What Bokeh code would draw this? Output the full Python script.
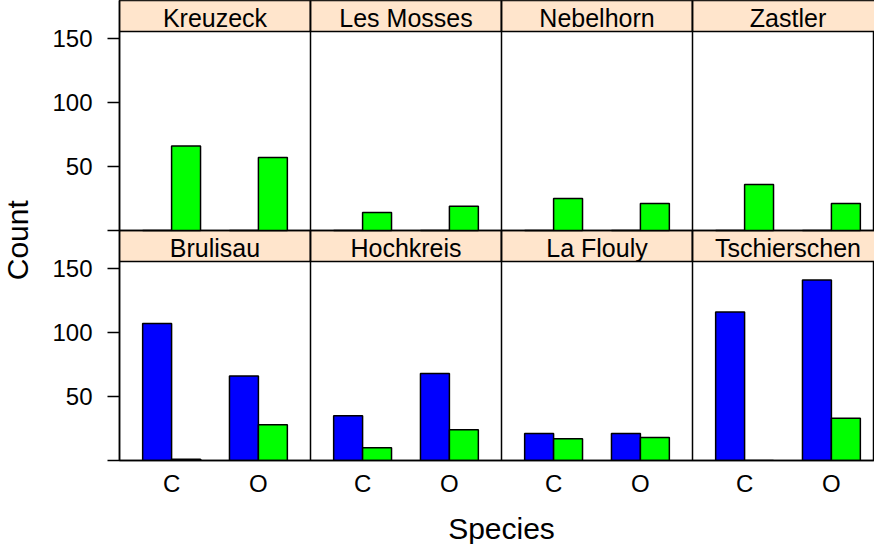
import math
from bokeh.plotting import figure
from bokeh.layouts import row, column
from bokeh.models import Range1d, FixedTicker
from bokeh.core.properties import value
from bokeh.embed import file_html
from bokeh.resources import INLINE

# ---------------- data ----------------
sites_top = ["Kreuzeck", "Les Mosses", "Nebelhorn", "Zastler"]
sites_bottom = ["Brulisau", "Hochkreis", "La Flouly", "Tschierschen"]
species = ["C", "O"]

blue_top = [[0, 0], [0, 0], [0, 0], [0, 0]]
green_top = [[66, 57], [14, 19], [25, 21], [36, 21]]
blue_bottom = [[107, 66], [35, 68], [21, 21], [116, 141]]
green_bottom = [[1, 28], [10, 24], [17, 18], [0, 33]]

y_ticks = [0, 50, 100, 150]
y_tick_labels = ["", "50", "100", "150"]
x_title = "Species"
y_title = "Count"

# ---------------- layout ----------------
FONT = "Liberation Sans"
BLUE = "#0000FF"
GREEN = "#00FF00"
STRIP_BG = "#FFE5CC"

W, H = 874, 544
LABEL_W = 40          # strip of canvas holding the y title
FRAME_LEFT = 119      # frame left edge within the page content
FRAME_H = 460
MAIN_BOTTOM = 40      # room for the C / O tick labels
TITLE_H = H - FRAME_H - MAIN_BOTTOM
frame_w = W - FRAME_LEFT

PANEL_W = 2.2        # each panel spans 0.4 .. 2.6 in category units
PANEL_PX = 191       # pixel width of one panel
PANEL_TOP = 155.4    # value at top of a panel
STRIP = 24.2         # strip height in value units
ROW = PANEL_TOP + STRIP
BAR_W = 1.0 / 3.0

x_range = Range1d(0, frame_w / PANEL_PX * PANEL_W)
y_range = Range1d(0, 2 * ROW)


def blank(fig):
    fig.background_fill_color = "white"
    fig.border_fill_color = "white"
    fig.outline_line_color = None
    fig.xgrid.visible = False
    fig.ygrid.visible = False
    return fig


p = figure(width=W - LABEL_W, height=FRAME_H + MAIN_BOTTOM,
           x_range=x_range, y_range=y_range,
           output_backend="svg", toolbar_location=None,
           min_border_left=FRAME_LEFT - LABEL_W, min_border_right=0,
           min_border_top=0, min_border_bottom=MAIN_BOTTOM)
blank(p)
p.outline_line_color = "black"
p.outline_line_width = 1.5

rows = [(sites_top, blue_top, green_top, ROW),
        (sites_bottom, blue_bottom, green_bottom, 0.0)]

bx, btop, bbase, gx, gtop, gbase = [], [], [], [], [], []
sl, sr, sb, st, tx, ty, tt = [], [], [], [], [], [], []
for sites, blues, greens, base in rows:
    for i, site in enumerate(sites):
        off = i * PANEL_W
        for j, sp in enumerate(species):
            xc = off + (j + 1) - 0.4
            bx.append(xc - BAR_W / 2); btop.append(base + blues[i][j]); bbase.append(base)
            gx.append(xc + BAR_W / 2); gtop.append(base + greens[i][j]); gbase.append(base)
        sl.append(off); sr.append(off + PANEL_W)
        sb.append(base + PANEL_TOP); st.append(base + ROW)
        tx.append(off + PANEL_W / 2); ty.append(base + PANEL_TOP + STRIP / 2); tt.append(site)

# strips
p.quad(left=sl, right=sr, bottom=sb, top=st, fill_color=STRIP_BG,
       line_color="black", line_width=1.5)
p.text(x=tx, y=ty, text=tt, text_align="center", text_baseline="middle",
       y_offset=2, text_font=value(FONT), text_font_size="25px", text_color="black")

# panel separators
seps = [i * PANEL_W for i in range(1, len(sites_bottom))]
p.segment(x0=seps, y0=[0] * len(seps), x1=seps, y1=[2 * ROW] * len(seps),
          line_color="black", line_width=1.5)
p.segment(x0=[0], y0=[ROW], x1=[x_range.end], y1=[ROW], line_color="black", line_width=1.5)

# bars
p.vbar(x=bx, width=BAR_W, bottom=bbase, top=btop, fill_color=BLUE,
       line_color="black", line_width=1.5)
p.vbar(x=gx, width=BAR_W, bottom=gbase, top=gtop, fill_color=GREEN,
       line_color="black", line_width=1.5)

# x axis
xt, xo = [], {}
for i in range(len(sites_bottom)):
    for j, sp in enumerate(species):
        v = i * PANEL_W + (j + 1) - 0.4
        xt.append(v); xo[v] = sp
p.xaxis.ticker = FixedTicker(ticks=xt)
p.xaxis.major_label_overrides = xo
p.xaxis.major_tick_out = 0
p.xaxis.major_tick_in = 0
p.xaxis.minor_tick_line_color = None
p.xaxis.major_tick_line_color = None
p.xaxis.major_label_standoff = 9

# y axis
yt, yo = [], {}
for base in (0.0, ROW):
    for t, lab in zip(y_ticks, y_tick_labels):
        yt.append(base + t); yo[base + t] = lab
p.yaxis.ticker = FixedTicker(ticks=yt)
p.yaxis.major_label_overrides = yo
p.yaxis.major_tick_out = 12
p.yaxis.major_tick_in = 0
p.yaxis.minor_tick_line_color = None
p.yaxis.major_label_standoff = 15

for ax in (p.xaxis, p.yaxis):
    ax.axis_line_color = "black"
    ax.axis_line_width = 1.5
    ax.major_tick_line_width = 1.5
    ax.major_label_text_font = FONT
    ax.major_label_text_font_size = "24px"
    ax.major_label_text_color = "black"

# y title: narrow figure sharing the y scale
ly = blank(figure(width=LABEL_W, height=FRAME_H + MAIN_BOTTOM,
                  x_range=Range1d(0, LABEL_W), y_range=y_range,
                  x_axis_type=None, y_axis_type=None,
                  output_backend="svg", toolbar_location=None,
                  min_border_left=0, min_border_right=0,
                  min_border_top=0, min_border_bottom=MAIN_BOTTOM))
ly.text(x=[17], y=[172], text=[y_title], angle=math.pi / 2,
        text_align="center", text_baseline="middle",
        text_font=value(FONT), text_font_size="30px", text_color="black")

# x title: short figure sharing the x scale
lx = blank(figure(width=W, height=TITLE_H,
                  x_range=x_range, y_range=Range1d(0, TITLE_H),
                  x_axis_type=None, y_axis_type=None,
                  output_backend="svg", toolbar_location=None,
                  min_border_left=FRAME_LEFT, min_border_right=0,
                  min_border_top=0, min_border_bottom=0))
lx.text(x=[2 * PANEL_W], y=[TITLE_H - 28], text=[x_title],
        text_align="center", text_baseline="middle",
        text_font=value(FONT), text_font_size="30px", text_color="black")

layout = column(row(ly, p, spacing=0), lx, spacing=0)

open("out.html", "w").write(file_html(layout, INLINE))
